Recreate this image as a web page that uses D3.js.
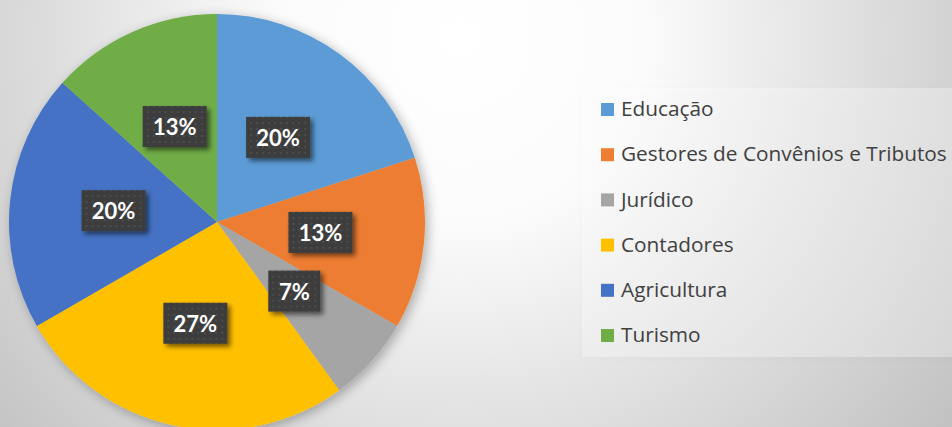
<!DOCTYPE html>
<html><head><meta charset="utf-8">
<script src="https://cdn.jsdelivr.net/npm/d3@7"></script>
<style>html,body{margin:0;padding:0;overflow:hidden;background:#fff}</style>
</head><body>
<svg id="c" width="952" height="427"></svg>
<script>
const categories = ["Educação","Gestores de Convênios e Tributos","Jurídico","Contadores","Agricultura","Turismo"];
const values = [3, 2, 1, 4, 3, 2];
const colors = ["#5B9BD5","#ED7D31","#A5A5A5","#FFC000","#4472C4","#70AD47"];

const W = 952, H = 427;
const svg = d3.select("#c");
const defs = svg.append("defs");

const bg = defs.append("radialGradient").attr("id","bg").attr("gradientUnits","userSpaceOnUse")
  .attr("cx",460).attr("cy",40).attr("r",620);
bg.append("stop").attr("offset","0%").attr("stop-color","#ffffff");
bg.append("stop").attr("offset","30%").attr("stop-color","#fbfbfb");
bg.append("stop").attr("offset","100%").attr("stop-color","#c2c2c2");
svg.append("rect").attr("width",W).attr("height",H).attr("fill","url(#bg)");

const sh = defs.append("filter").attr("id","psh").attr("x","-20%").attr("y","-20%").attr("width","140%").attr("height","140%");
sh.append("feGaussianBlur").attr("in","SourceAlpha").attr("stdDeviation",6);
sh.append("feOffset").attr("dx",3).attr("dy",3).attr("result","b");
sh.append("feComponentTransfer").append("feFuncA").attr("type","linear").attr("slope",0.3);
const m = sh.append("feMerge"); m.append("feMergeNode"); m.append("feMergeNode").attr("in","SourceGraphic");

const bsh = defs.append("filter").attr("id","bsh").attr("x","-20%").attr("y","-20%").attr("width","140%").attr("height","140%");
bsh.append("feGaussianBlur").attr("in","SourceAlpha").attr("stdDeviation",4);
bsh.append("feOffset").attr("dx",1).attr("dy",2).attr("result","b");
bsh.append("feComponentTransfer").append("feFuncA").attr("type","linear").attr("slope",0.08);
const m3 = bsh.append("feMerge"); m3.append("feMergeNode"); m3.append("feMergeNode").attr("in","SourceGraphic");

const lsh = defs.append("filter").attr("id","lsh").attr("x","-30%").attr("y","-30%").attr("width","160%").attr("height","160%");
lsh.append("feGaussianBlur").attr("in","SourceAlpha").attr("stdDeviation",2.5);
lsh.append("feOffset").attr("dx",3).attr("dy",3).attr("result","b");
lsh.append("feComponentTransfer").append("feFuncA").attr("type","linear").attr("slope",0.55);
const m2 = lsh.append("feMerge"); m2.append("feMergeNode"); m2.append("feMergeNode").attr("in","SourceGraphic");

const pat = defs.append("pattern").attr("id","dots").attr("patternUnits","userSpaceOnUse").attr("width",6).attr("height",6);
pat.append("rect").attr("width",6).attr("height",6).attr("fill","#3c3c3c");
pat.append("rect").attr("x",2).attr("y",2).attr("width",2).attr("height",2).attr("fill","#4e4e4e");

// legend box
const lg = svg.append("g");
lg.append("rect").attr("x",582).attr("y",88).attr("width",380).attr("height",269)
  .attr("fill","rgba(255,255,255,0.3)").attr("filter","url(#bsh)");

const cx = 217, cy = 222, R = 208;
const pie = d3.pie().value(d=>d).sort(null);
const arcs = pie(values);
const arc = d3.arc().innerRadius(0).outerRadius(R);
const lab = d3.arc().innerRadius(R*0.5).outerRadius(R*0.5);
const total = d3.sum(values);

const g = svg.append("g").attr("transform",`translate(${cx},${cy})`);
g.append("g").attr("filter","url(#psh)").selectAll("path").data(arcs).join("path")
  .attr("d",arc).attr("fill",(d,i)=>colors[i]);

const lgG = g.selectAll("g.lab").data(arcs).join("g").attr("class","lab")
  .attr("transform",d=>`translate(${lab.centroid(d)})`);
lgG.each(function(d){
  const t = Math.round(d.value/total*100)+"%";
  const w = t.length>2 ? 64 : 52;
  const s = d3.select(this);
  s.append("rect").attr("x",-w/2).attr("y",-21).attr("width",w).attr("height",41)
    .attr("fill","url(#dots)").attr("filter","url(#lsh)");
  s.append("text").attr("text-anchor","middle").attr("dy","0.36em")
    .attr("font-family","Lato, 'Open Sans', sans-serif").attr("font-weight","bold")
    .attr("font-size",22).attr("fill","#fff").text(t);
});

const items = lg.selectAll("g.it").data(categories).join("g").attr("class","it")
  .attr("transform",(d,i)=>`translate(601,${109 + i*45.2})`);
items.append("rect").attr("x",0).attr("y",-6).attr("width",13).attr("height",13).attr("fill",(d,i)=>colors[i]);
items.append("text").attr("x",20).attr("dy","0.35em")
  .attr("font-family","'Open Sans', sans-serif").attr("font-size",20.8).attr("fill","#404040").text(d=>d);
</script>
</body></html>
